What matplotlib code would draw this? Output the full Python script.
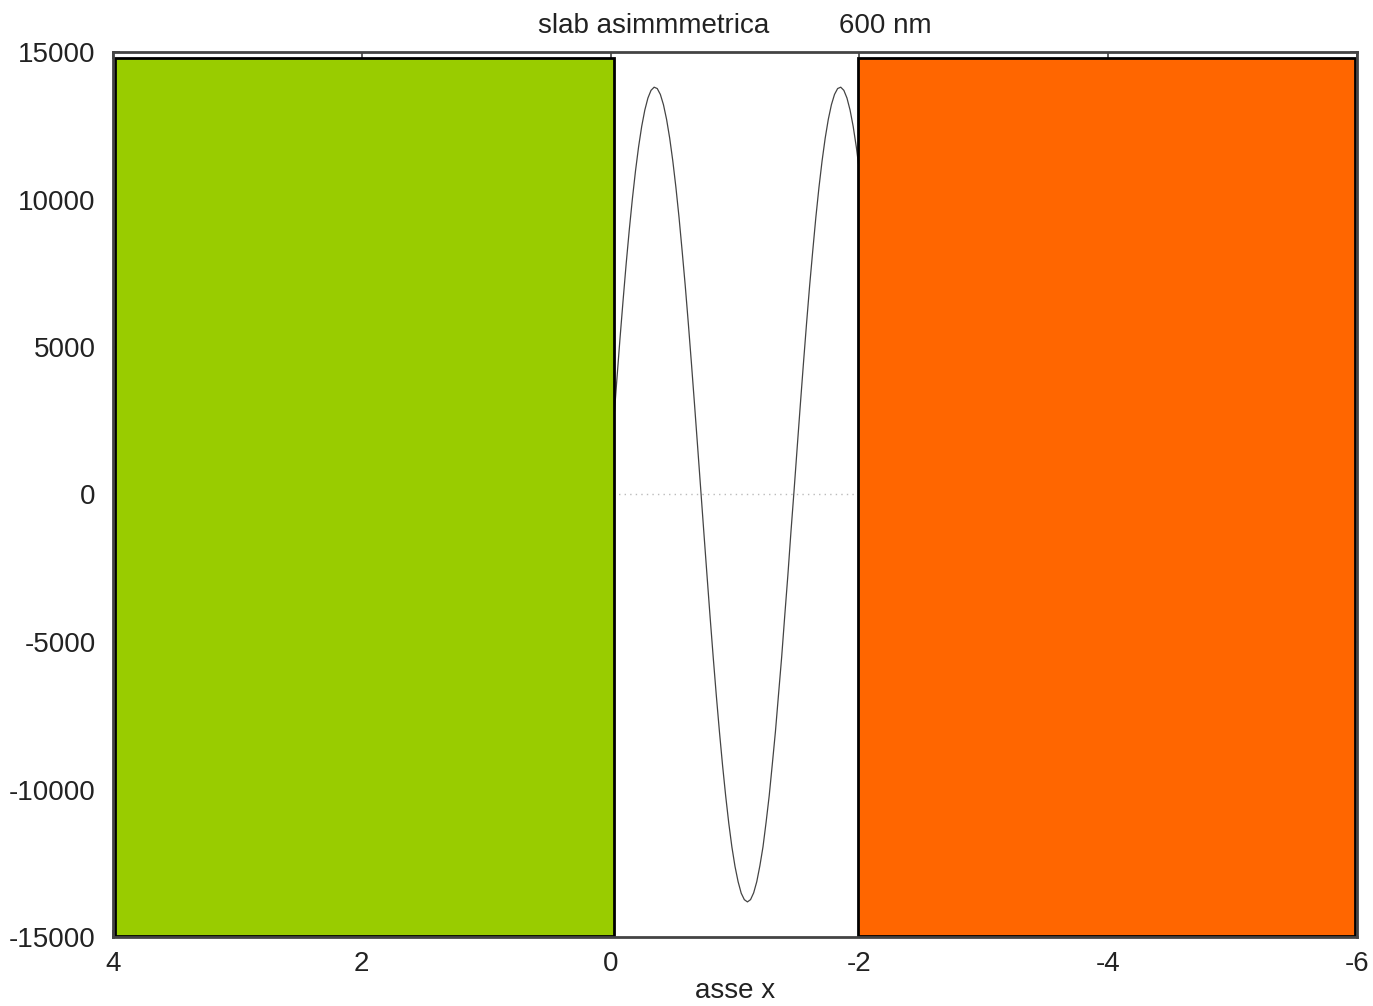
import matplotlib
matplotlib.use("Agg")
import matplotlib.pyplot as plt
from matplotlib.patches import Rectangle

plt.rcParams['font.family'] = ['Liberation Sans', 'DejaVu Sans']

# Field profile inside the slab (x from 0 to -2)
x_vals = [0.000, -0.025, -0.050, -0.075, -0.100, -0.125, -0.150, -0.175, -0.200, -0.225,
          -0.250, -0.275, -0.300, -0.325, -0.350, -0.375, -0.400, -0.425, -0.450, -0.475,
          -0.500, -0.525, -0.550, -0.575, -0.600, -0.625, -0.650, -0.675, -0.700, -0.725,
          -0.750, -0.775, -0.800, -0.825, -0.850, -0.875, -0.900, -0.925, -0.950, -0.975,
          -1.000, -1.025, -1.050, -1.075, -1.100, -1.125, -1.150, -1.175, -1.200, -1.225,
          -1.250, -1.275, -1.300, -1.325, -1.350, -1.375, -1.400, -1.425, -1.450, -1.475,
          -1.500, -1.525, -1.550, -1.575, -1.600, -1.625, -1.650, -1.675, -1.700, -1.725,
          -1.750, -1.775, -1.800, -1.825, -1.850, -1.875, -1.900, -1.925, -1.950, -1.975,
          -2.000]
field = [1019, 2461, 3878, 5259, 6563, 7815, 8963, 10019, 10964, 11787,
         12479, 13031, 13440, 13700, 13807, 13761, 13561, 13212, 12716, 12080,
         11307, 10411, 9398, 8260, 7079, 5789, 4436, 3034, 1596, 145,
         -1309, -2745, -4161, -5524, -6825, -8046, -9181, -10215, -11145, -11948,
         -12607, -13126, -13516, -13734, -13810, -13733, -13503, -13124, -12584, -11944,
         -11110, -10210, -9138, -8038, -6771, -5516, -4104, -2736, -1250, 146,
         1599, 3035, 4437, 5790, 7080, 8261, 9399, 10412, 11309, 12080,
         12717, 13213, 13563, 13761, 13807, 13700, 13440, 13031, 12477, 11786,
         10962]

# Cladding regions: (x_start, x_end, y_low, y_high)
region_x0 = [3.98, -1.99]
region_x1 = [-0.03, -5.985]
region_y0 = [-14950, -14950]
region_y1 = [14800, 14800]
region_colors = ['#99CC00', '#FF6600']

x_ticks = [4, 2, 0, -2, -4, -6]
y_ticks = [-15000, -10000, -5000, 0, 5000, 10000, 15000]

fig = plt.figure(figsize=(13.73, 10.06), dpi=100)
ax = fig.add_axes([113/1373, 1-937/1006, (1357-113)/1373, (937-52)/1006])

ax.axhline(0, color='#bbbbbb', lw=1, ls=(0, (1, 3)), zorder=0.8)
ax.plot(x_vals, field, color='#444444', lw=0.9, zorder=1.5)

for x0, x1, y0, y1, c in zip(region_x0, region_x1, region_y0, region_y1, region_colors):
    ax.add_patch(Rectangle((min(x0, x1), y0), abs(x1 - x0), y1 - y0,
                           facecolor=c, edgecolor='black', lw=2, zorder=2))

ax.set_xlim(4, -6)
ax.set_ylim(-15000, 15000)
ax.set_xticks(x_ticks)
ax.set_xticklabels([str(t) for t in x_ticks])
ax.set_yticks(y_ticks)
ax.set_yticklabels([str(t) for t in y_ticks])
ax.set_axisbelow(True)
ax.tick_params(direction='in', length=5, width=1.2, color='#444444',
               top=True, right=True, labelsize=20, labelcolor='#222222')
ax.tick_params(axis='y', pad=12.5)
ax.tick_params(axis='x', pad=10)
for s in ax.spines.values():
    s.set_color('#444444')
    s.set_linewidth(2)

ax.set_title('slab asimmmetrica         600 nm', fontsize=20, color='#222222', pad=14)
ax.set_xlabel('asse x', fontsize=20, color='#222222', labelpad=1)

fig.savefig('out.png', dpi=100)
